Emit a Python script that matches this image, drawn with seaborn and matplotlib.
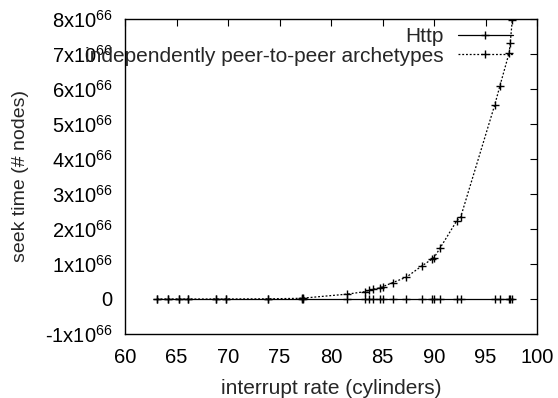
import matplotlib
matplotlib.use("Agg")
import matplotlib.pyplot as plt
import seaborn as sns
import numpy as np
import pandas as pd

# Data (y in units of 1e66)
x_vals = [63.1, 64.2, 65.2, 66.1, 68.8, 69.8, 73.9, 77.2, 77.3, 81.6, 83.3, 83.7,
          84.1, 84.8, 85.0, 86.0, 87.3, 88.8, 89.8, 90.0, 90.6, 92.2, 92.6, 95.9,
          96.4, 97.3, 97.4, 97.6]
http_vals = [0.0] * len(x_vals)
p2p_vals = [0.0, 0.0, 0.0, 0.0, 0.0, 0.001, 0.005, 0.02, 0.025, 0.14, 0.21, 0.25,
            0.28, 0.32, 0.35, 0.47, 0.62, 0.94, 1.14, 1.18, 1.46, 2.23, 2.35, 5.55,
            6.09, 7.04, 7.31, 7.97]
series_names = ["Http", "independently peer-to-peer archetypes"]
y_ticks = [-1, 0, 1, 2, 3, 4, 5, 6, 7, 8]
x_ticks = [60, 65, 70, 75, 80, 85, 90, 95, 100]

sns.set_style("white")
plt.rcParams['font.family'] = ['Liberation Sans', 'DejaVu Sans']
plt.rcParams['mathtext.fontset'] = 'custom'
plt.rcParams['mathtext.rm'] = 'Liberation Sans'
plt.rcParams['mathtext.it'] = 'Liberation Sans'
plt.rcParams['mathtext.default'] = 'rm'

TICK_FS = 14.5
LABEL_FS = 15
LEG_FS = 15

fig = plt.figure(figsize=(5.58, 3.98), dpi=100)
ax = fig.add_axes([125/558, 1-334/398, (537-125)/558, (334-19)/398])

df1 = pd.DataFrame({"x": x_vals, "y": http_vals})
df2 = pd.DataFrame({"x": x_vals, "y": p2p_vals})
sns.lineplot(data=df1, x="x", y="y", ax=ax, color="black", linewidth=0.9,
             marker="+", markersize=6, markeredgewidth=1.0,
             markeredgecolor="black", markerfacecolor="black", estimator=None,
             sort=False, label=series_names[0])
sns.lineplot(data=df2, x="x", y="y", ax=ax, color="black", linewidth=0.9,
             linestyle=(0, (1.5, 1.5)), marker="+", markersize=6,
             markeredgewidth=1.0, markeredgecolor="black",
             markerfacecolor="black", estimator=None, sort=False,
             label=series_names[1])

ax.set_xlim(60, 100)
ax.set_ylim(-1, 8)
ax.set_xticks(x_ticks)
ax.set_xticklabels([str(t) for t in x_ticks])
ax.set_yticks(y_ticks)
ylabels = []
for t in y_ticks:
    if t == 0:
        ylabels.append("0")
    elif t < 0:
        ylabels.append(r"-$%d\mathrm{x}10^{66}$" % abs(t))
    else:
        ylabels.append(r"$%d\mathrm{x}10^{66}$" % t)
ax.set_yticklabels(ylabels)
ax.tick_params(direction="in", length=5, width=0.8, top=True, right=True,
               labelsize=TICK_FS, colors="black")
ax.tick_params(axis="y", pad=9)
ax.tick_params(axis="x", pad=10)
for s in ax.spines.values():
    s.set_color("black")
    s.set_linewidth(1.0)

ax.set_xlabel("interrupt rate (cylinders)", fontsize=LABEL_FS)
ax.set_ylabel("seek time (# nodes)", fontsize=14)
ax.xaxis.set_label_coords(0.5, (334-379)/315)
ax.yaxis.set_label_coords((21-125)/412, 0.5)
ax.yaxis.label.set_va("center")

leg = ax.legend(loc="upper right", bbox_to_anchor=(513/558, 1-27/398),
                bbox_transform=fig.transFigure, frameon=False, fontsize=LEG_FS,
                markerfirst=False, handlelength=2.65, handletextpad=0.67,
                labelspacing=0.03, borderpad=0, borderaxespad=0, numpoints=1)
for t in leg.get_texts():
    t.set_ha("right")
for h in leg.legend_handles:
    h.set_markeredgecolor("black")

fig.savefig("out.png", dpi=100)
